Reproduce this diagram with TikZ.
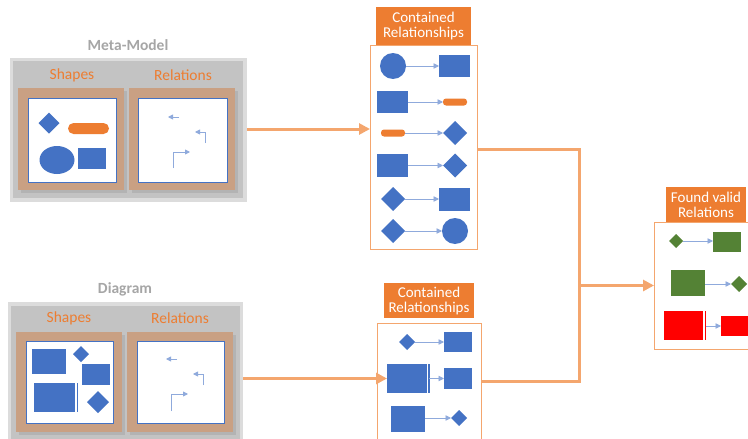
\documentclass[tikz,border=0pt]{standalone}
\usepackage{fontspec}
\setmainfont{Carlito}
\usetikzlibrary{shapes.geometric,arrows.meta}
\definecolor{hdr}{HTML}{ED7D31}
\definecolor{shp}{HTML}{4472C4}
\definecolor{grn}{HTML}{548235}
\definecolor{lblue}{HTML}{8FAADC}
\definecolor{conn}{HTML}{F4A66E}
\definecolor{brn}{HTML}{C9A083}
\definecolor{pnl}{HTML}{C3C3C3}
\definecolor{pnlout}{HTML}{DCDCDC}
\definecolor{shd}{HTML}{B3B3B3}
\definecolor{lbl}{HTML}{A6A6A6}
\tikzset{
  box/.style={rectangle, inner sep=0pt, outer sep=0pt},
  sq/.style={box, fill=shp, minimum width=#1},
  dia/.style={diamond, inner sep=0pt, outer sep=0pt, fill=shp, minimum width=#1, minimum height=#1},
  circ/.style={circle, inner sep=0pt, outer sep=0pt, fill=shp, minimum size=#1},
  pill/.style={box, fill=hdr, rounded corners=3pt},
  rel/.style={draw=lblue, line width=0.9pt, -{Triangle[length=5.5pt,width=5.5pt]}},
  relicon/.style={draw=lblue, line width=0.9pt, -{Triangle[length=5pt,width=5pt]}},
  hdrbox/.style={box, fill=hdr, text=white, align=center, font=\fontsize{15}{15}\selectfont},
  framebox/.style={box, draw=conn, line width=1pt},
  panelout/.style={box, fill=pnlout},
  panelin/.style={box, fill=pnl},
  brownbox/.style={box, fill=brn, minimum width=106, minimum height=102},
  shadowbox/.style={box, fill=shd, minimum width=106, minimum height=102},
  whitebox/.style={box, fill=white, draw=shp, line width=0.8pt},
  grplabel/.style={text=lbl, font=\fontsize{15.5}{15.5}\selectfont\bfseries},
  sublabel/.style={text=hdr, font=\fontsize{15.5}{15.5}\selectfont},
  connline/.style={draw=conn, line width=3pt},
  connarrow/.style={draw=conn, line width=3pt, -{Triangle[length=11pt,width=11pt]}},
}
\begin{document}
\begin{tikzpicture}[x=1pt,y=-1pt]
\clip (0,0) rectangle (748,439);
\fill[white] (0,0) rectangle (748,439);

% ---------------- Meta-Model ----------------
\node[grplabel] (mmlabel) at (128,45) {Meta-Model};
\node[panelout, minimum width=237, minimum height=144] (mmpanel) at (128.5,130) {};
\node[panelin, minimum width=230, minimum height=137] (mmpanelin) at (128,129.5) {};
\node[sublabel] (mmshapeslbl) at (72,75) {Shapes};
\node[sublabel] (mmrelslbl) at (183,75) {Relations};
\node[shadowbox] (mmsh1) at (74,142) {};
\node[brownbox] (mmbr1) at (71,139) {};
\node[whitebox, minimum width=88, minimum height=84] (mmw1) at (72,140) {};
\node[shadowbox] (mmsh2) at (185,142) {};
\node[brownbox] (mmbr2) at (182,139) {};
\node[whitebox, minimum width=89, minimum height=84] (mmw2) at (182.5,140) {};
% shapes
\node[dia=21] (mmdia) at (49,123) {};
\node[pill, minimum width=41, minimum height=11, rounded corners=5.5pt] (mmpill) at (88.5,128.5) {};
\node[ellipse, fill=shp, inner sep=0pt, minimum width=35, minimum height=28] (mmell) at (57,160) {};
\node[sq=28, minimum height=21] (mmsq) at (92,158.5) {};
% relation icons
\draw[relicon] (179,117) -- (168,117);
\draw[relicon] (205,143) -- (205,132) -- (195,132);
\draw[relicon] (173,168) -- (173,152) -- (190,152);

% ---------------- Diagram ----------------
\node[grplabel] (dglabel) at (125,289) {Diagram};
\node[panelout, minimum width=235, minimum height=150] (dgpanel) at (125.5,377) {};
\node[panelin, minimum width=229, minimum height=145] (dgpanelin) at (125.5,378) {};
\node[sublabel] (dgshapeslbl) at (69,318) {Shapes};
\node[sublabel] (dgrelslbl) at (180,318) {Relations};
\node[shadowbox, minimum height=100] (dgsh1) at (72,385) {};
\node[brownbox, minimum height=100] (dgbr1) at (69,382) {};
\node[whitebox, minimum width=87, minimum height=82] (dgw1) at (69.5,382) {};
\node[shadowbox, minimum height=100] (dgsh2) at (183,385) {};
\node[brownbox, minimum height=100] (dgbr2) at (180,382) {};
\node[whitebox, minimum width=87, minimum height=82] (dgw2) at (180.5,382) {};
% shapes
\node[sq=34, minimum height=25] (dgr1) at (49,361.5) {};
\node[dia=16] (dgd1) at (81,354) {};
\node[sq=28, minimum height=21] (dgr2) at (96,374.5) {};
\node[sq=41, minimum height=29] (dgr3) at (54.5,397.5) {};
\draw[shp, line width=1.5pt] (dgr3.north east) ++(2.5,0) -- ++(0,29);
\node[dia=22] (dgd2) at (98,402) {};
% relation icons
\draw[relicon] (177,359) -- (166,359);
\draw[relicon] (203,385) -- (203,374) -- (193,374);
\draw[relicon] (171,411) -- (171,394) -- (188,394);

% ---------------- Top contained relationships ----------------
\node[framebox, minimum width=107, minimum height=204] (topframe) at (423.5,147) {};
\node[hdrbox, minimum width=95, minimum height=38] (tophdr) at (423.5,26) {Contained\\Relationships};
% row 1
\node[circ=26] (t1a) at (393,66) {};
\node[sq=31, minimum height=22] (t1b) at (454.5,66) {};
\draw[rel] (t1a) -- (t1b);
% row 2
\node[sq=31, minimum height=22] (t2a) at (392.5,102) {};
\node[pill, minimum width=24, minimum height=7] (t2b) at (455,102) {};
\draw[rel] (t2a) -- (t2b);
% row 3
\node[pill, minimum width=24, minimum height=7] (t3a) at (393,133) {};
\node[dia=24] (t3b) at (455,133) {};
\draw[rel] (t3a) -- (t3b);
% row 4
\node[sq=31, minimum height=23] (t4a) at (392.5,165.5) {};
\node[dia=24] (t4b) at (455,165.5) {};
\draw[rel] (t4a) -- (t4b);
% row 5
\node[dia=24] (t5a) at (393,199) {};
\node[sq=31, minimum height=23] (t5b) at (454.5,199.5) {};
\draw[rel] (t5a) -- (t5b.west |- t5a);
% row 6
\node[dia=24] (t6a) at (393,231) {};
\node[circ=26] (t6b) at (455,231) {};
\draw[rel] (t6a) -- (t6b);

% ---------------- Bottom contained relationships ----------------
\node[framebox, minimum width=104, minimum height=137] (botframe) at (429,391.5) {};
\node[hdrbox, minimum width=90, minimum height=35] (bothdr) at (429,300.5) {Contained\\Relationships};
% row 1
\node[dia=16] (b1a) at (407,342) {};
\node[sq=28, minimum height=20] (b1b) at (458,342) {};
\draw[rel] (b1a) -- (b1b);
% row 2
\node[sq=40, minimum height=29] (b2a) at (407,378.5) {};
\draw[shp, line width=1.5pt] (b2a.north east) ++(2,0) coordinate (b2line) -- ++(0,29);
\node[sq=28, minimum height=21] (b2b) at (458,378.5) {};
\draw[rel] (b2line |- b2a.east) -- (b2b);
% row 3
\node[sq=34, minimum height=26] (b3a) at (408,419) {};
\node[dia=16] (b3b) at (459,418) {};
\draw[rel] (b3a.east |- b3b) -- (b3b);

% ---------------- Found valid relations ----------------
\node[framebox, minimum width=116, minimum height=127] (found) at (712,285.5) {};
\node[hdrbox, minimum width=80, minimum height=35] (foundhdr) at (706,204.5) {Found valid\\Relations};
% row 1
\node[dia=14, fill=grn] (f1a) at (676,241) {};
\node[sq=28, minimum height=20, fill=grn] (f1b) at (727,242) {};
\draw[rel] (f1a) -- (f1b.west |- f1a);
% row 2
\node[sq=34, minimum height=26, fill=grn] (f2a) at (688,283) {};
\node[dia=16, fill=grn] (f2b) at (739,284) {};
\draw[rel] (f2a.east |- f2b) -- (f2b);
% row 3
\node[sq=39, minimum height=29, fill=red] (f3a) at (683.5,325.5) {};
\draw[red, line width=1.5pt] (f3a.north east) ++(2.5,0) coordinate (f3line) -- ++(0,29);
\node[sq=39, minimum height=20, fill=red] (f3b) at (740.5,326) {};
\draw[rel] (f3line |- f3b) -- (f3b);

% ---------------- Orange connectors ----------------
\draw[connarrow] (mmpanel.east |- 0,129) -- (topframe.west |- 0,129);
\draw[connarrow] (dgpanel.east |- b2a.west) -- (b2a.west);
\coordinate (jt) at (579,149);
\coordinate (jb) at (579,381);
\draw[connline, line join=miter] (topframe.east |- jt) -- (jt) -- (jb) -- (botframe.east |- jb);
\draw[connarrow] (jt |- found.west) -- (found.west);
\end{tikzpicture}
\end{document}
